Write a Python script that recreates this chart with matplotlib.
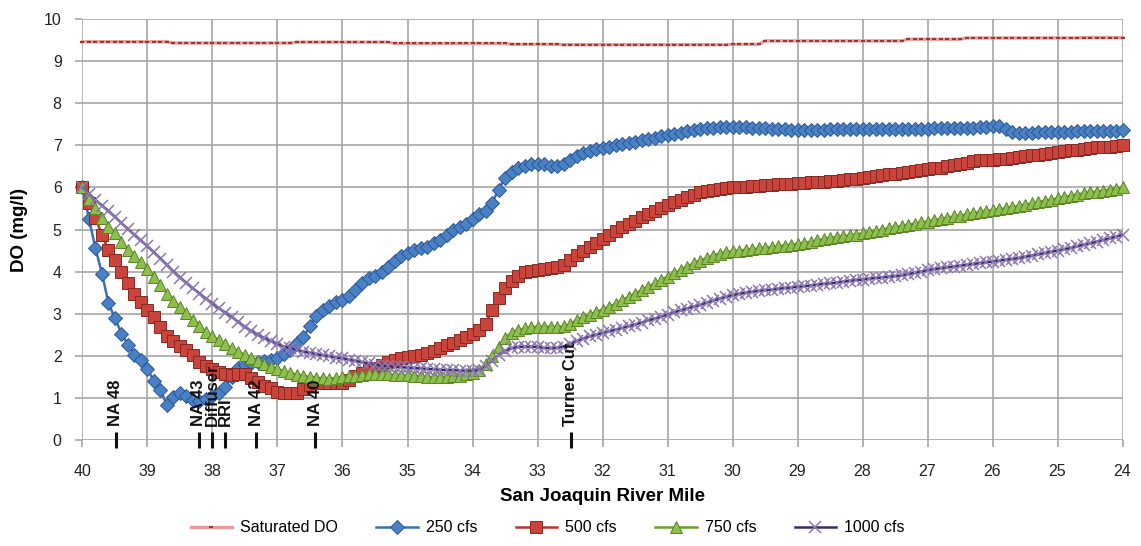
import numpy as np
import matplotlib as mpl
mpl.use("Agg")
import matplotlib.pyplot as plt

# River mile stations, 0.1 mi apart, upstream (40) to downstream (24)
MILES = np.round(np.linspace(40.0, 24.0, 161), 1)

SAT_DO = [
    9.46, 9.46, 9.46, 9.46, 9.46, 9.46, 9.46, 9.46, 9.46, 9.46,
    9.46, 9.46, 9.46, 9.46, 9.43, 9.43, 9.43, 9.43, 9.43, 9.43,
    9.43, 9.43, 9.43, 9.43, 9.43, 9.43, 9.43, 9.43, 9.43, 9.43,
    9.43, 9.43, 9.43, 9.45, 9.45, 9.45, 9.45, 9.45, 9.45, 9.45,
    9.45, 9.45, 9.45, 9.45, 9.45, 9.45, 9.45, 9.45, 9.42, 9.42,
    9.42, 9.42, 9.42, 9.42, 9.42, 9.42, 9.42, 9.42, 9.42, 9.42,
    9.42, 9.42, 9.42, 9.42, 9.42, 9.42, 9.40, 9.40, 9.40, 9.40,
    9.40, 9.40, 9.40, 9.40, 9.39, 9.39, 9.39, 9.39, 9.39, 9.39,
    9.39, 9.39, 9.39, 9.39, 9.39, 9.39, 9.39, 9.39, 9.39, 9.39,
    9.39, 9.39, 9.39, 9.39, 9.39, 9.39, 9.39, 9.39, 9.39, 9.39,
    9.40, 9.40, 9.40, 9.40, 9.40, 9.48, 9.48, 9.48, 9.48, 9.48,
    9.48, 9.48, 9.48, 9.48, 9.48, 9.48, 9.48, 9.48, 9.48, 9.48,
    9.48, 9.48, 9.48, 9.48, 9.48, 9.48, 9.48, 9.52, 9.52, 9.52,
    9.52, 9.52, 9.52, 9.52, 9.52, 9.52, 9.55, 9.55, 9.55, 9.55,
    9.55, 9.55, 9.55, 9.55, 9.55, 9.55, 9.55, 9.55, 9.55, 9.55,
    9.55, 9.55, 9.55, 9.55, 9.56, 9.56, 9.56, 9.56, 9.56, 9.56,
    9.56,
]

DO_250 = [
    6.00, 5.25, 4.55, 3.95, 3.25, 2.89, 2.53, 2.26, 2.03, 1.90,
    1.68, 1.40, 1.18, 0.83, 1.03, 1.12, 1.05, 0.95, 0.92, 0.98,
    1.05, 1.12, 1.27, 1.50, 1.70, 1.79, 1.83, 1.85, 1.87, 1.90,
    1.95, 2.04, 2.15, 2.30, 2.45, 2.70, 2.95, 3.09, 3.18, 3.27,
    3.33, 3.42, 3.56, 3.73, 3.84, 3.90, 4.00, 4.11, 4.25, 4.37,
    4.45, 4.52, 4.55, 4.59, 4.67, 4.75, 4.86, 4.99, 5.07, 5.14,
    5.25, 5.36, 5.45, 5.62, 5.95, 6.22, 6.36, 6.46, 6.52, 6.55,
    6.56, 6.55, 6.51, 6.50, 6.56, 6.65, 6.74, 6.81, 6.86, 6.91,
    6.94, 6.97, 7.00, 7.03, 7.06, 7.09, 7.12, 7.15, 7.18, 7.21,
    7.24, 7.27, 7.30, 7.33, 7.36, 7.38, 7.40, 7.42, 7.43, 7.44,
    7.44, 7.44, 7.43, 7.42, 7.41, 7.40, 7.39, 7.38, 7.38, 7.37,
    7.37, 7.37, 7.37, 7.37, 7.37, 7.38, 7.38, 7.38, 7.38, 7.38,
    7.38, 7.38, 7.38, 7.38, 7.38, 7.39, 7.39, 7.39, 7.39, 7.39,
    7.39, 7.40, 7.40, 7.40, 7.41, 7.41, 7.42, 7.42, 7.43, 7.44,
    7.47, 7.45, 7.39, 7.32, 7.30, 7.30, 7.30, 7.31, 7.31, 7.31,
    7.32, 7.32, 7.32, 7.33, 7.33, 7.33, 7.34, 7.34, 7.35, 7.35,
    7.36,
]

DO_500 = [
    6.00, 5.62, 5.27, 4.87, 4.51, 4.28, 4.00, 3.72, 3.48, 3.27,
    3.09, 2.92, 2.68, 2.48, 2.35, 2.24, 2.13, 2.02, 1.85, 1.75,
    1.68, 1.62, 1.57, 1.54, 1.56, 1.57, 1.48, 1.37, 1.29, 1.24,
    1.15, 1.12, 1.11, 1.12, 1.20, 1.30, 1.36, 1.36, 1.36, 1.35,
    1.36, 1.42, 1.52, 1.60, 1.66, 1.72, 1.79, 1.85, 1.90, 1.94,
    1.97, 2.00, 2.03, 2.06, 2.12, 2.19, 2.25, 2.31, 2.37, 2.44,
    2.52, 2.62, 2.75, 3.10, 3.38, 3.62, 3.78, 3.90, 3.98, 4.02,
    4.04, 4.06, 4.08, 4.11, 4.16, 4.28, 4.40, 4.50, 4.59, 4.68,
    4.77, 4.87, 4.97, 5.05, 5.13, 5.21, 5.29, 5.36, 5.44, 5.51,
    5.58, 5.65, 5.71, 5.77, 5.83, 5.88, 5.92, 5.95, 5.97, 5.99,
    6.00, 6.01, 6.02, 6.03, 6.04, 6.05, 6.06, 6.07, 6.08, 6.09,
    6.10, 6.11, 6.12, 6.13, 6.14, 6.15, 6.16, 6.18, 6.19, 6.21,
    6.23, 6.25, 6.27, 6.29, 6.31, 6.33, 6.35, 6.37, 6.39, 6.41,
    6.43, 6.45, 6.47, 6.50, 6.53, 6.56, 6.59, 6.62, 6.64, 6.65,
    6.66, 6.67, 6.68, 6.70, 6.72, 6.74, 6.76, 6.78, 6.80, 6.82,
    6.84, 6.86, 6.88, 6.90, 6.92, 6.94, 6.95, 6.96, 6.97, 6.98,
    7.00,
]

DO_750 = [
    6.00, 5.72, 5.50, 5.27, 5.07, 4.91, 4.71, 4.51, 4.36, 4.22,
    4.06, 3.87, 3.68, 3.48, 3.31, 3.16, 3.01, 2.86, 2.70, 2.57,
    2.47, 2.37, 2.27, 2.18, 2.10, 2.02, 1.94, 1.87, 1.80, 1.74,
    1.69, 1.63, 1.59, 1.55, 1.52, 1.50, 1.48, 1.47, 1.46, 1.47,
    1.49, 1.51, 1.53, 1.55, 1.56, 1.57, 1.57, 1.56, 1.55, 1.54,
    1.54, 1.53, 1.52, 1.50, 1.50, 1.50, 1.50, 1.51, 1.53, 1.56,
    1.60, 1.66, 1.80, 2.00, 2.20, 2.42, 2.55, 2.61, 2.65, 2.68,
    2.69, 2.69, 2.69, 2.69, 2.70, 2.75, 2.85, 2.92, 2.98, 3.04,
    3.10, 3.17, 3.24, 3.32, 3.40, 3.48, 3.56, 3.64, 3.72, 3.80,
    3.88, 3.96, 4.04, 4.12, 4.20, 4.26, 4.32, 4.38, 4.43, 4.46,
    4.48, 4.50, 4.52, 4.53, 4.55, 4.57, 4.58, 4.60, 4.62, 4.64,
    4.66, 4.68, 4.71, 4.74, 4.77, 4.80, 4.82, 4.84, 4.86, 4.88,
    4.91, 4.94, 4.97, 5.00, 5.03, 5.05, 5.08, 5.11, 5.14, 5.17,
    5.19, 5.22, 5.25, 5.28, 5.31, 5.33, 5.36, 5.39, 5.41, 5.44,
    5.46, 5.48, 5.50, 5.53, 5.56, 5.59, 5.62, 5.65, 5.68, 5.71,
    5.74, 5.77, 5.80, 5.83, 5.86, 5.88, 5.90, 5.92, 5.95, 5.97,
    6.00,
]

DO_1000 = [
    6.00, 5.85, 5.70, 5.57, 5.44, 5.30, 5.15, 5.01, 4.87, 4.74,
    4.60, 4.46, 4.31, 4.16, 4.00, 3.86, 3.73, 3.60, 3.48, 3.36,
    3.24, 3.13, 3.02, 2.92, 2.80, 2.68, 2.59, 2.50, 2.42, 2.35,
    2.28, 2.22, 2.18, 2.14, 2.10, 2.07, 2.04, 2.01, 1.99, 1.96,
    1.94, 1.91, 1.88, 1.85, 1.82, 1.79, 1.77, 1.75, 1.74, 1.73,
    1.72, 1.71, 1.70, 1.69, 1.68, 1.67, 1.66, 1.66, 1.65, 1.65,
    1.65, 1.67, 1.75, 1.88, 2.02, 2.12, 2.18, 2.21, 2.22, 2.22,
    2.21, 2.19, 2.18, 2.19, 2.22, 2.28, 2.35, 2.41, 2.46, 2.50,
    2.54, 2.58, 2.62, 2.66, 2.70, 2.74, 2.79, 2.84, 2.88, 2.93,
    2.98, 3.03, 3.08, 3.12, 3.17, 3.21, 3.26, 3.31, 3.36, 3.40,
    3.44, 3.47, 3.50, 3.52, 3.54, 3.56, 3.57, 3.59, 3.61, 3.62,
    3.64, 3.65, 3.67, 3.69, 3.71, 3.72, 3.74, 3.76, 3.78, 3.80,
    3.81, 3.83, 3.85, 3.86, 3.88, 3.89, 3.91, 3.94, 3.97, 4.00,
    4.03, 4.06, 4.08, 4.10, 4.12, 4.14, 4.16, 4.18, 4.20, 4.22,
    4.24, 4.26, 4.28, 4.30, 4.32, 4.35, 4.38, 4.41, 4.44, 4.47,
    4.50, 4.53, 4.56, 4.60, 4.64, 4.67, 4.71, 4.75, 4.79, 4.83,
    4.87,
]

# Landmarks along the channel
SITE_NAMES = ["NA 48", "NA 43", "Diffuser", "RRI", "NA 42", "NA 40", "Turner Cut"]
SITE_MILES = [39.49, 38.21, 38.00, 37.80, 37.33, 36.42, 32.49]

FONT = ["Liberation Sans", "DejaVu Sans"]
plt.rcParams["font.family"] = FONT

GRID = "#a6a6a6"

fig = plt.figure(figsize=(11.41, 5.46), dpi=100)
ax = fig.add_axes([0.0723, 0.1941, 0.9115, 0.7711])

ax.plot(MILES, SAT_DO, color="#e79c9c", lw=2.4, marker="_", ms=2.6, mew=1.5,
        mec="#9e3535", label="Saturated DO", clip_on=False, zorder=3)
ax.plot(MILES, DO_250, color="#3b70b6", lw=1.8, marker="D", ms=7.2, mew=0.7,
        mfc="#4a80c4", mec="#2b5793", label="250 cfs", clip_on=False, zorder=3)
ax.plot(MILES, DO_500, color="#b5362e", lw=1.8, marker="s", ms=8.0, mew=0.7,
        mfc="#c9453c", mec="#8a2823", label="500 cfs", clip_on=False, zorder=3)
ax.plot(MILES, DO_750, color="#6f9c35", lw=1.8, marker="^", ms=8.5, mew=0.7,
        mfc="#8dbf4c", mec="#5b8428", label="750 cfs", clip_on=False, zorder=3)
ax.plot(MILES, DO_1000, color="#3a2a69", lw=1.8, marker="x", ms=8.0, mew=1.1,
        mec="#8d76b6", label="1000 cfs", clip_on=False, zorder=3)

# landmark ticks on the zero line with rotated names above
ax.plot(SITE_MILES, [0] * len(SITE_MILES), ls="none", marker="|", ms=11, mew=2.2,
        color="#111111", clip_on=False, zorder=5)
for name, mile in zip(SITE_NAMES, SITE_MILES):
    ax.text(mile, 0.33, name, rotation=90, ha="center", va="bottom",
            fontsize=12, fontweight="bold", color="#111111", zorder=6)

ax.set_xlim(40, 24)
ax.set_ylim(0, 10)
ax.set_xticks(np.arange(40, 23, -1))
ax.set_yticks(np.arange(0, 11, 1))
ax.grid(True, color=GRID, lw=1.2)
ax.set_axisbelow(True)
for s in ax.spines.values():
    s.set_visible(False)
ax.tick_params(axis="both", length=5, width=1.2, color=GRID, labelsize=11.5,
               labelcolor="#222222")
ax.tick_params(axis="x", pad=12)
ax.tick_params(axis="y", pad=10)

ax.set_xlabel("San Joaquin River Mile", fontsize=13.5, fontweight="bold")
ax.set_ylabel("DO (mg/l)", fontsize=13.5, fontweight="bold")
ax.xaxis.set_label_coords(0.5, -0.113)
ax.yaxis.set_label_coords(-0.052, 0.5)

fig.legend(loc="center", bbox_to_anchor=(0.48, 0.033), ncol=5, frameon=False,
           fontsize=11.5, handlelength=2.6, handletextpad=0.5, columnspacing=2.4,
           numpoints=1)

fig.savefig("out.png", dpi=100)
